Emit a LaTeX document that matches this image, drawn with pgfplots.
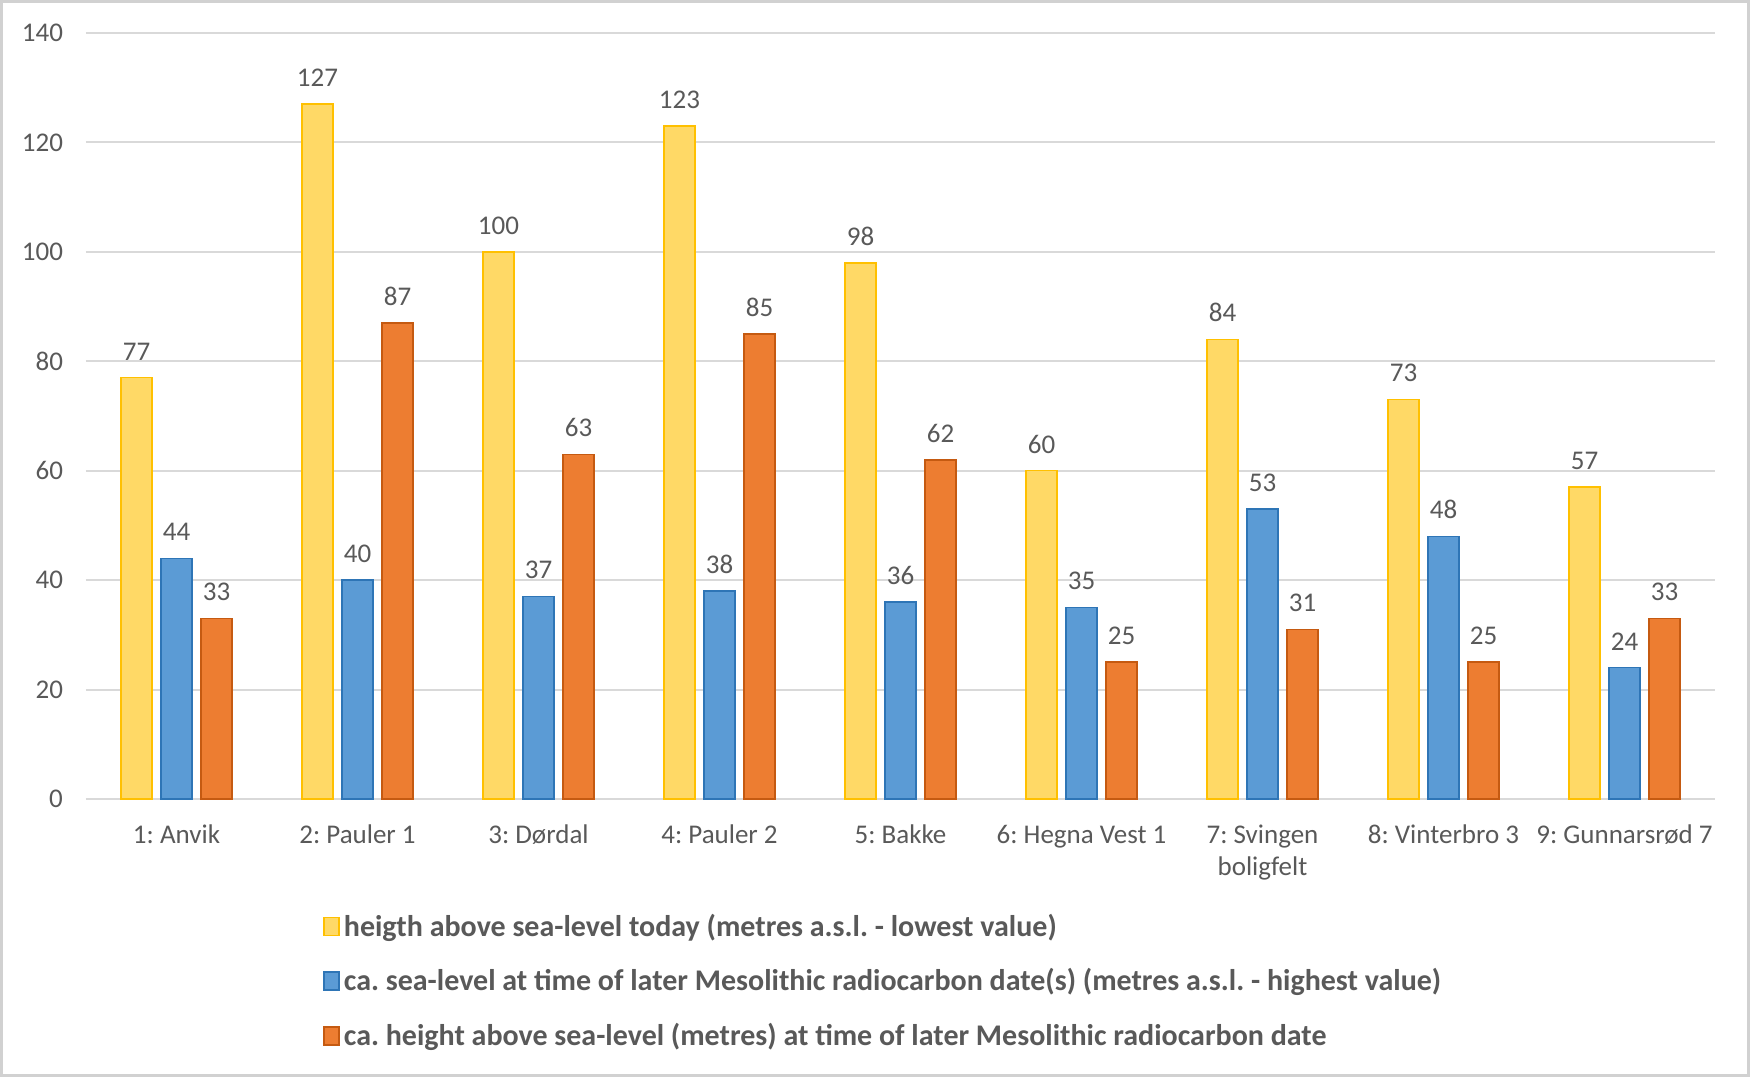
\documentclass[border=0pt]{standalone}
\usepackage{pgfplots}
\pgfplotsset{compat=1.18}
\usepackage{fontspec}
\setmainfont{Carlito}
\frenchspacing
\definecolor{txt}{HTML}{595959}
\definecolor{grd}{HTML}{D9D9D9}
\definecolor{yfill}{HTML}{FFD966}
\definecolor{ydraw}{HTML}{FFC000}
\definecolor{bfill}{HTML}{5B9BD5}
\definecolor{bdraw}{HTML}{2E75B6}
\definecolor{ofill}{HTML}{ED7D31}
\definecolor{odraw}{HTML}{C55A11}
\pgfplotsset{lgbox/.style={legend image code/.code={\draw[##1,line width=0.75pt] (0pt,-4.5pt) rectangle (7.5pt,4.5pt);}}}
\begin{document}
\frenchspacing
\begin{tikzpicture}
\useasboundingbox (-43pt,-139pt) rectangle (832pt,399.5pt);
\draw[line width=1.5pt, color=black!18] (-42.25pt,-138.25pt) rectangle (831.25pt,398.75pt);
\begin{axis}[
  at={(0pt,0pt)}, anchor=south west,
  scale only axis, width=814.5pt, height=383pt,
  ybar=4.5pt, bar width=15.5pt,
  xmin=-0.5, xmax=8.5, ymin=0, ymax=140,
  enlargelimits=false,
  xtick={0,...,8},
  xticklabels={1: Anvik, 2: Pauler 1, 3: Dørdal, 4: Pauler 2, 5: Bakke, 6: Hegna Vest 1, {7: Svingen\\boligfelt}, 8: Vinterbro 3, 9: Gunnarsrød 7},
  ytick={0,20,...,140},
  axis line style={draw=none},
  ymajorgrids, major grid style={grd, line width=1pt},
  major tick length=0pt,
  tick label style={font=\fontsize{13.5}{16}\selectfont\frenchspacing, text=txt},
  xticklabel style={align=center, yshift=-9.5pt},
  yticklabel style={xshift=-8pt},
  /pgf/number format/assume math mode=true,
  nodes near coords,
  nodes near coords style={font=\fontsize{13.5}{16}\selectfont, text=txt, yshift=5pt},
  legend style={draw=none, at={(0.1418,-0.139)}, anchor=north west,
    font=\fontsize{15}{18}\selectfont\bfseries\frenchspacing, text=txt, row sep=10.7pt,
    legend cell align=left, fill=none},
]
\addplot[fill=yfill, draw=ydraw, line width=0.75pt, lgbox] coordinates {(0,77) (1,127) (2,100) (3,123) (4,98) (5,60) (6,84) (7,73) (8,57)};
\addplot[fill=bfill, draw=bdraw, line width=0.75pt, lgbox] coordinates {(0,44) (1,40) (2,37) (3,38) (4,36) (5,35) (6,53) (7,48) (8,24)};
\addplot[fill=ofill, draw=odraw, line width=0.75pt, lgbox] coordinates {(0,33) (1,87) (2,63) (3,85) (4,62) (5,25) (6,31) (7,25) (8,33)};
\legend{heigth above sea-level today (metres a.s.l. - lowest value),
ca. sea-level at time of later Mesolithic radiocarbon date(s) (metres a.s.l. - highest value),
ca. height above sea-level (metres) at time of later Mesolithic radiocarbon date}
\end{axis}
\end{tikzpicture}
\end{document}
